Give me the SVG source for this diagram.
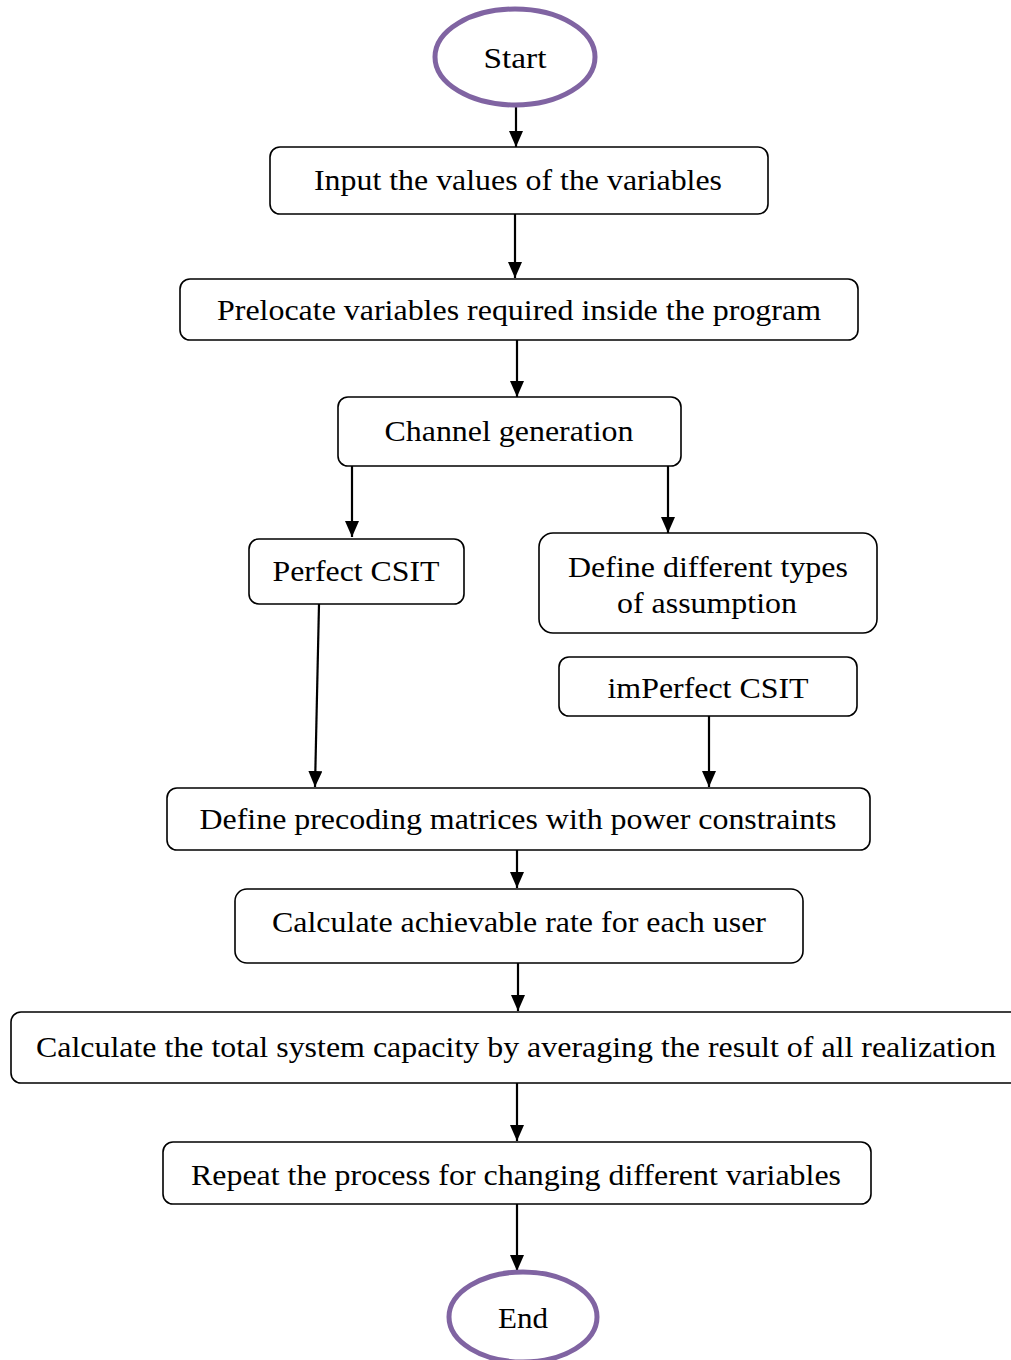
<svg xmlns="http://www.w3.org/2000/svg" width="1011" height="1360" viewBox="0 0 1011 1360">
<style>
.box{fill:#fff;stroke:#000;stroke-width:1.6}
.term{fill:#fff;stroke:#8064A2;stroke-width:5}
.t{font-size:29px;fill:#000;text-anchor:middle}
.c{fill:none;stroke:#000;stroke-width:2.2}
</style>
<defs>
<marker id="a" viewBox="0 0 16 14" refX="16" refY="7" markerWidth="16" markerHeight="14" markerUnits="userSpaceOnUse" orient="auto">
<path d="M0,0 L16,7 L0,14 Z" fill="#000"/>
</marker>
</defs>
<g id="connectors">
<line class="c" x1="516" y1="105" x2="516" y2="147" marker-end="url(#a)"/>
<line class="c" x1="515" y1="214" x2="515" y2="278" marker-end="url(#a)"/>
<line class="c" x1="517" y1="340" x2="517" y2="397" marker-end="url(#a)"/>
<line class="c" x1="352" y1="466" x2="352" y2="537" marker-end="url(#a)"/>
<line class="c" x1="668" y1="466" x2="668" y2="533" marker-end="url(#a)"/>
<line class="c" x1="319" y1="604" x2="315" y2="787" marker-end="url(#a)"/>
<line class="c" x1="709" y1="716" x2="709" y2="787" marker-end="url(#a)"/>
<line class="c" x1="517" y1="850" x2="517" y2="888" marker-end="url(#a)"/>
<line class="c" x1="518" y1="963" x2="518" y2="1011" marker-end="url(#a)"/>
<line class="c" x1="517" y1="1083" x2="517" y2="1141" marker-end="url(#a)"/>
<line class="c" x1="517" y1="1204" x2="517" y2="1271" marker-end="url(#a)"/>
</g>
<g font-family="Liberation Serif, serif">
<g id="start">
<ellipse class="term" cx="515" cy="57" rx="80" ry="48"/>
<text class="t" x="515" y="68" textLength="63" lengthAdjust="spacingAndGlyphs">Start</text>
</g>
<g id="input">
<rect class="box" x="270" y="147" width="498" height="67" rx="10"/>
<text class="t" x="518" y="190" textLength="408" lengthAdjust="spacingAndGlyphs">Input the values of the variables</text>
</g>
<g id="prelocate">
<rect class="box" x="180" y="279" width="678" height="61" rx="10"/>
<text class="t" x="519" y="320" textLength="604" lengthAdjust="spacingAndGlyphs">Prelocate variables required inside the program</text>
</g>
<g id="channel">
<rect class="box" x="338" y="397" width="343" height="69" rx="10"/>
<text class="t" x="509" y="441" textLength="249" lengthAdjust="spacingAndGlyphs">Channel generation</text>
</g>
<g id="perfect">
<rect class="box" x="249" y="539" width="215" height="65" rx="10"/>
<text class="t" x="356" y="581" textLength="167" lengthAdjust="spacingAndGlyphs">Perfect CSIT</text>
</g>
<g id="define-types">
<rect class="box" x="539" y="533" width="338" height="100" rx="14"/>
<text class="t" x="708" y="577" textLength="280" lengthAdjust="spacingAndGlyphs">Define different types</text>
<text class="t" x="707" y="613" textLength="180" lengthAdjust="spacingAndGlyphs">of assumption</text>
</g>
<g id="imperfect">
<rect class="box" x="559" y="657" width="298" height="59" rx="10"/>
<text class="t" x="708" y="698" textLength="201" lengthAdjust="spacingAndGlyphs">imPerfect CSIT</text>
</g>
<g id="precoding">
<rect class="box" x="167" y="788" width="703" height="62" rx="10"/>
<text class="t" x="518" y="829" textLength="637" lengthAdjust="spacingAndGlyphs">Define precoding matrices with power constraints</text>
</g>
<g id="achievable">
<rect class="box" x="235" y="889" width="568" height="74" rx="12"/>
<text class="t" x="519" y="932" textLength="494" lengthAdjust="spacingAndGlyphs">Calculate achievable rate for each user</text>
</g>
<g id="capacity">
<rect class="box" x="11" y="1012" width="1010" height="71" rx="10"/>
<text class="t" x="516" y="1057" textLength="960" lengthAdjust="spacingAndGlyphs">Calculate the total system capacity by averaging the result of all realization</text>
</g>
<g id="repeat">
<rect class="box" x="163" y="1142" width="708" height="62" rx="10"/>
<text class="t" x="516" y="1185" textLength="650" lengthAdjust="spacingAndGlyphs">Repeat the process for changing different variables</text>
</g>
<g id="end">
<ellipse class="term" cx="523" cy="1317" rx="74" ry="45"/>
<text class="t" x="523" y="1328" textLength="50" lengthAdjust="spacingAndGlyphs">End</text>
</g>
</g>
</svg>
